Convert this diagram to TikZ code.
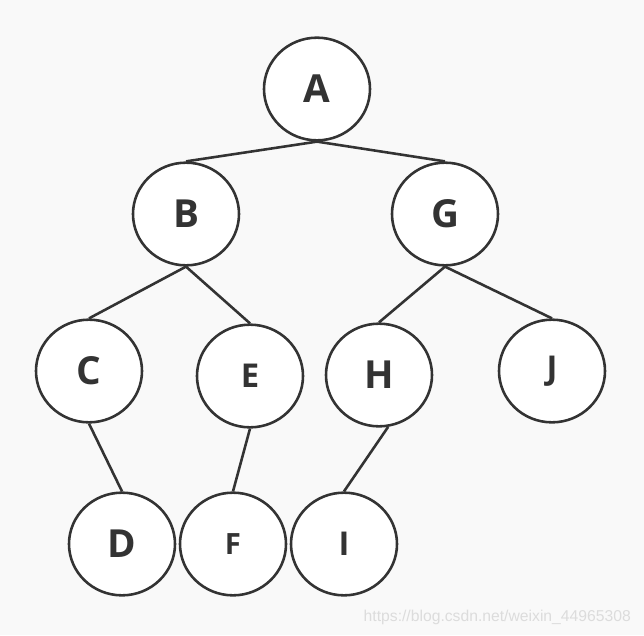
\documentclass[tikz,border=0pt]{standalone}
\usepackage{fontspec}
\usepackage{tikz}
\usetikzlibrary{shapes.geometric}
\newfontfamily\vertexfont{Open Sans}
\newfontfamily\markfont{Liberation Sans}
\definecolor{TreeInk}{HTML}{333333}
\definecolor{TreePaper}{HTML}{F9F9F9}
\definecolor{TreeMark}{HTML}{DCDCDC}

\begin{document}
\begin{tikzpicture}[x=0.03cm, y=-0.03cm, line width=2.2pt,
  vertex/.style={ellipse, draw=TreeInk, fill=white, minimum width=3.18cm, minimum height=3.08cm, inner sep=0pt, text=TreeInk, font=\vertexfont\bfseries\fontsize{33}{36}\selectfont},
  small/.style={font=\vertexfont\bfseries\fontsize{28}{32}\selectfont},
  tiny/.style={font=\vertexfont\bfseries\fontsize{25}{28}\selectfont},
  edge/.style={draw=TreeInk}]

\fill[TreePaper] (0,0) rectangle (644,635);

\node[vertex] (A) at (317,89) {A};

\node[vertex] (B) at (186,214) {B};
\node[vertex] (G) at (445,214) {G};

\node[vertex] (C) at (89,371) {C};
\node[vertex, small] (E) at (250,376) {E};
\node[vertex] (H) at (379,375) {H};
\node[vertex, small] (J) at (552,371) {J};

\node[vertex] (D) at (122,544) {D};
\node[vertex, tiny] (F) at (233,544) {F};
\node[vertex, small] (I) at (344,544) {I};

\foreach \p/\c in {A/B,A/G,B/C,B/E,G/H,G/J,C/D,E/F}{\draw[edge] (\p.south) -- (\c.north);}
\draw[edge] (H.-80) -- (I.north);

\node[text=TreeMark, font=\markfont\fontsize{13.4}{15}\selectfont, anchor=east] (mark) at (636,617) {https://blog.csdn.net/weixin\_44965308};
\end{tikzpicture}
\end{document}
